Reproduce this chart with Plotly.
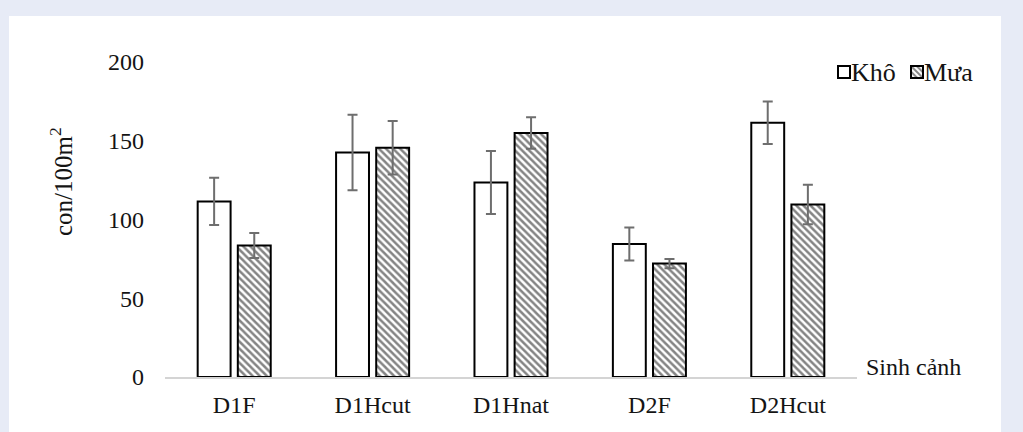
import plotly.graph_objects as go

categories = ["D1F", "D1Hcut", "D1Hnat", "D2F", "D2Hcut"]
kho_values = [111.5, 142.5, 123.5, 84.5, 161.5]
kho_err = [15, 24, 20, 10.5, 13.5]
mua_values = [83.5, 145.5, 155.0, 72.0, 109.5]
mua_err = [8, 17, 10, 3, 12.5]
y_ticks = [0, 50, 100, 150, 200]
series_names = ["Khô", "Mưa"]

FONT = "Liberation Serif, Times New Roman, serif"
TXT = "#141414"
W, H = 1023, 432
L, R, T, B = 165, 166, 62, 55
PW, PH = W - L - R, H - T - B


def px_x(p):
    return (p - L) / PW


def px_y(p):
    return (H - B - p) / PH


fig = go.Figure()
fig.add_trace(go.Bar(
    name=" ", x=categories, y=kho_values,
    marker=dict(color="white", line=dict(color="black", width=2)),
    error_y=dict(type="data", array=kho_err, color="#6E6E6E", thickness=2, width=5),
))
fig.add_trace(go.Bar(
    name="  ", x=categories, y=mua_values,
    marker=dict(color="white", line=dict(color="black", width=2),
                pattern=dict(shape="\\", fgcolor="#0A0A0A", bgcolor="white",
                             size=5, solidity=0.5)),
    error_y=dict(type="data", array=mua_err, color="#6E6E6E", thickness=2, width=5),
))

fig.update_layout(
    width=W, height=H,
    margin=dict(l=L, r=R, t=T, b=B),
    paper_bgcolor="#E7EBF6",
    plot_bgcolor="white",
    barmode="group",
    bargap=0.42,
    bargroupgap=0.18,
    font=dict(family=FONT, size=24, color=TXT),
    showlegend=True,
    legend=dict(orientation="h", x=px_x(824), xanchor="left",
                y=px_y(72), yanchor="middle",
                font=dict(family=FONT, size=20, color=TXT),
                bgcolor="rgba(0,0,0,0)", itemwidth=30, tracegroupgap=0,
                entrywidth=28, entrywidthmode="pixels"),
    xaxis=dict(showline=True, linecolor="#D4D4D4", linewidth=2,
               showgrid=False, zeroline=False, ticks="",
               tickfont=dict(family=FONT, size=24, color=TXT),
               ticklabelstandoff=5),
    yaxis=dict(range=[0, 200], tickvals=y_ticks, showgrid=False,
               zeroline=False, showline=False, ticks="",
               tickfont=dict(family=FONT, size=24, color=TXT),
               ticklabelstandoff=20),
    shapes=[dict(type="rect", xref="paper", yref="paper", layer="below",
                 x0=px_x(9), x1=px_x(1001), y0=px_y(432), y1=px_y(16),
                 fillcolor="white", line=dict(width=0))],
    annotations=[
        dict(text="con/100m<sup>2</sup>", xref="paper", yref="paper",
             x=px_x(61), y=px_y(182), textangle=-90, showarrow=False,
             xanchor="center", yanchor="middle",
             font=dict(family=FONT, size=25, color=TXT)),
        dict(text="Sinh cảnh", xref="paper", yref="paper",
             x=px_x(864), y=px_y(367), showarrow=False,
             xanchor="left", yanchor="middle",
             font=dict(family=FONT, size=24, color=TXT)),
        dict(text=series_names[0], xref="paper", yref="paper",
             x=px_x(849), y=px_y(72), showarrow=False,
             xanchor="left", yanchor="middle",
             font=dict(family=FONT, size=26, color=TXT)),
        dict(text=series_names[1], xref="paper", yref="paper",
             x=px_x(922), y=px_y(72), showarrow=False,
             xanchor="left", yanchor="middle",
             font=dict(family=FONT, size=26, color=TXT)),
    ],
)

fig.write_html("out.html")
